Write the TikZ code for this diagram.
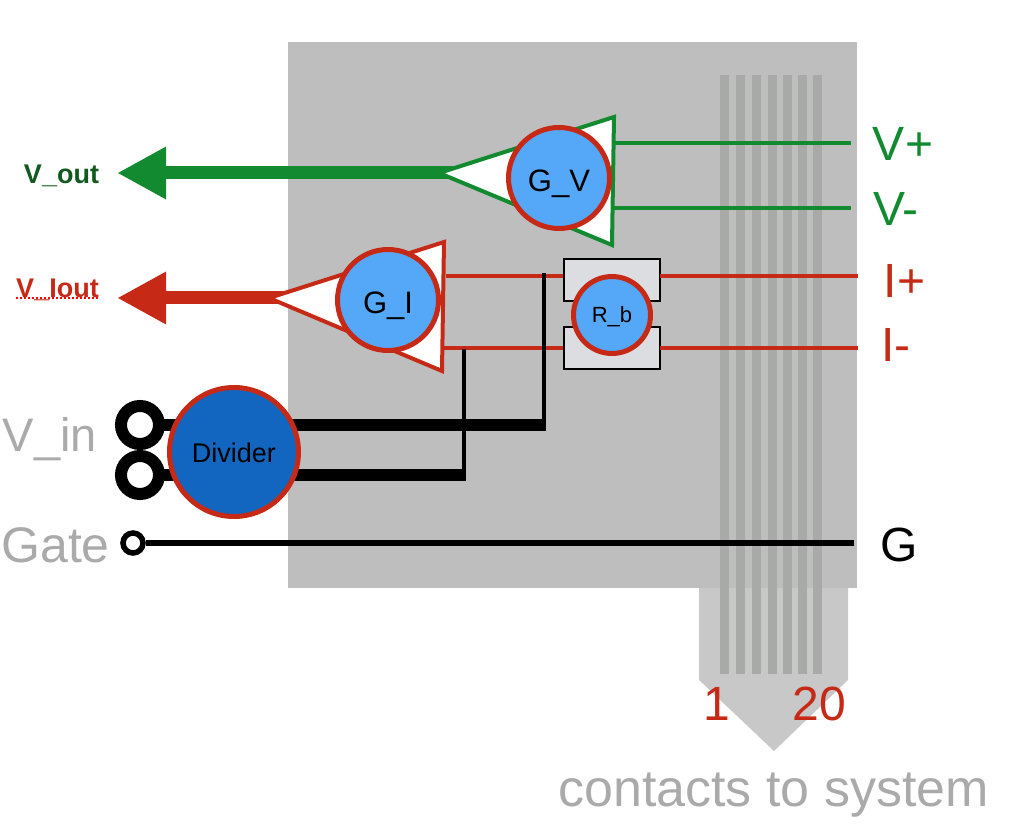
\documentclass[tikz,border=0pt]{standalone}
\usepackage{fontspec}
\setmainfont{Liberation Sans}
\usetikzlibrary{positioning, arrows.meta}
\definecolor{panelgray}{HTML}{BEBEBE}
\definecolor{tabgray}{HTML}{C8C8C8}
\definecolor{stripgray}{HTML}{A8AAA8}
\definecolor{boxgray}{HTML}{DCDDE0}
\definecolor{labelgray}{HTML}{AAAAAA}
\definecolor{wiregreen}{HTML}{128A30}
\definecolor{darkgreen}{HTML}{10591F}
\definecolor{wirered}{HTML}{C62A16}
\definecolor{ampblue}{HTML}{55A7F8}
\definecolor{divblue}{HTML}{1366BF}
\newcommand{\pxfont}[1]{\fontsize{#1}{#1}\selectfont}

\begin{document}
\begin{tikzpicture}[
    x=1pt,y=-1pt,
    amp/.style={circle,draw=wirered,fill=ampblue,line width=5pt,inner sep=0pt,text=black,text depth=0pt},
    ring/.style={circle,draw=black,fill=white,inner sep=0pt},
    greenwire/.style={draw=wiregreen,line width=4pt},
    redwire/.style={draw=wirered,line width=4pt},
    biggate/.style={-{Triangle[length=49pt,width=49pt]},line width=13pt},
    pinlabel/.style={font=\pxfont{48},inner sep=0pt},
    outlabel/.style={font=\pxfont{27}\bfseries,inner sep=0pt},
    sidelabel/.style={font=\pxfont{50},text=labelgray,inner sep=0pt}
]
\useasboundingbox (0,0) rectangle (1020,826);

% Board and contact tab
\fill[tabgray] (699,585) -- (848,585) -- (848,680) -- (774,751) -- (699,680) -- cycle;
\fill[panelgray] (288,42) rectangle (857,588);
\foreach \x in {720,736,752,768,783,798,813} {
    \fill[stripgray] (\x,75) rectangle (\x+9,674);
}

% Green channel
\coordinate (gvtip) at (439,173);
\coordinate (gvshaft) at (462,173);
\coordinate (vouttip) at (117,173);
\coordinate (vplusa) at (614,143);
\coordinate (vplusb) at (851,143);
\coordinate (vminusa) at (612,208);
\coordinate (vminusb) at (851,208);
\draw[biggate,wiregreen] (gvshaft) -- (vouttip);
\draw[greenwire,fill=white,line join=miter] (gvtip) -- (614,117) -- (612,245) -- cycle;
\draw[greenwire] (vplusa) -- (vplusb);
\draw[greenwire] (vminusa) -- (vminusb);
\node[amp,minimum size=101pt,font=\pxfont{31},text height=28pt] (gv) at (559,178) {G\_V};

% Sense resistor boxes
\node[draw=black,fill=boxgray,line width=2pt,minimum width=96pt,minimum height=42pt,inner sep=0pt] (rtop) at (611.5,280.5) {};
\node[draw=black,fill=boxgray,line width=2pt,minimum width=96pt,minimum height=42pt,inner sep=0pt] (rbot) at (611.5,348) {};

% Red channel
\coordinate (gitip) at (269,298);
\coordinate (gishaft) at (292,298);
\coordinate (iouttip) at (117,298);
\coordinate (iplusa) at (446,276);
\coordinate (iplusb) at (563,276);
\coordinate (iplusc) at (660,276);
\coordinate (iplusd) at (858,276);
\coordinate (iminusa) at (443,348);
\coordinate (iminusb) at (563,348);
\coordinate (iminusc) at (660,348);
\coordinate (iminusd) at (858,348);
\draw[biggate,wirered] (gishaft) -- (iouttip);
\draw[redwire,fill=white,line join=miter] (gitip) -- (444,242) -- (442,371) -- cycle;
\draw[redwire] (iplusa) -- (iplusb);
\draw[redwire] (iplusc) -- (iplusd);
\draw[redwire] (iminusa) -- (iminusb);
\draw[redwire] (iminusc) -- (iminusd);
\node[amp,minimum size=101pt,font=\pxfont{31},text height=26pt] (gi) at (388,300) {G\_I};
\node[amp,minimum size=77pt,font=\pxfont{22},text height=16pt] (rb) at (612,315) {R\_b};

% Input rings and bias wires
\node[ring,line width=12pt,minimum size=38pt] (ringa) at (140,425) {};
\node[ring,line width=12pt,minimum size=38pt] (ringb) at (140,475) {};
\coordinate (busa) at (544,425);
\coordinate (busb) at (464,475);
\coordinate (busatop) at (544,273);
\coordinate (busbtop) at (464,349);
\draw[line width=12pt] (ringa) ++(19,0) -- (546,425);
\draw[line width=12pt] (ringb) ++(19,0) -- (466,475);
\draw[line width=4.5pt] (busa) -- (busatop);
\draw[line width=4.5pt] (busb) -- (busbtop);
\node[amp,fill=divblue,minimum size=129pt,font=\pxfont{27},text height=20pt] (divider) at (234,452) {Divider};

% Gate line
\node[ring,line width=5.5pt,minimum size=20pt] (gatering) at (133,543) {};
\coordinate (gend) at (854,543);
\draw[line width=6pt] (gatering) -- (gend);

% Labels
\node[outlabel,text=darkgreen] (vout) at (61.5,176) {V\_out};
\node[outlabel,text=wirered] (viout) at (57.5,290) {V\_Iout};
\draw[red,line width=2pt,dotted] (viout.west |- 0,298.5) -- (viout.east |- 0,298.5);
\node[pinlabel,text=wiregreen] (vplus) at (903,144) {V+};
\node[pinlabel,text=wiregreen] (vminus) at (896,209) {V-};
\node[pinlabel,text=wirered] (iplus) at (904.5,281) {I+};
\node[pinlabel,text=wirered] (iminus) at (896,345) {I-};
\node[pinlabel,text=black] (glabel) at (899,545) {G};
\node[sidelabel,font=\pxfont{47}] (vin) at (50,439) {V\_in};
\node[sidelabel] (gate) at (55.5,545) {Gate};
\node[pinlabel,text=wirered] (one) at (717,704) {1};
\node[pinlabel,text=wirered] (twenty) at (819.5,704) {20};
\node[sidelabel,font=\pxfont{52}] (contacts) at (773.5,795) {contacts to system};

\end{tikzpicture}
\end{document}
